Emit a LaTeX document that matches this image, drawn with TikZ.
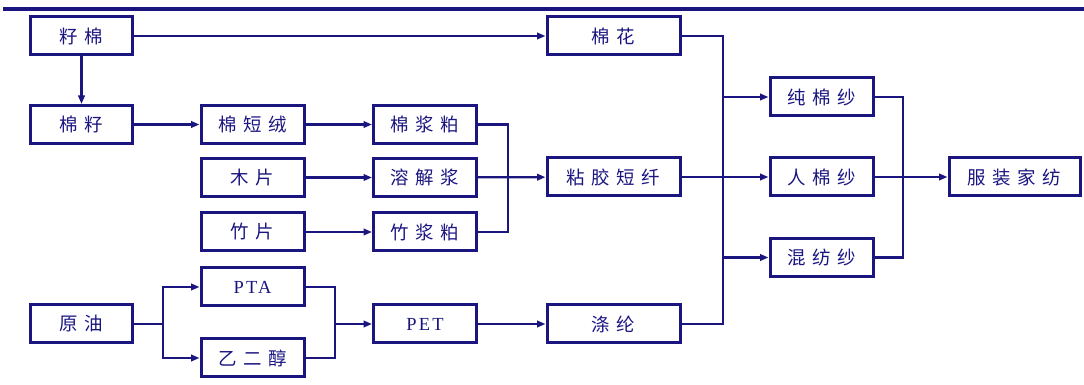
\documentclass[tikz,border=0pt]{standalone}
\usepackage{fontspec}
\setmainfont[LetterSpace=12]{Liberation Serif}
\newfontfamily\cjk[LetterSpace=35]{Noto Sans CJK SC}
\usetikzlibrary{arrows.meta}
\definecolor{navy}{HTML}{1B1580}

\begin{document}
\begin{tikzpicture}[x=0.2mm,y=-0.2mm,font=\fontsize{10.5pt}{12pt}\selectfont\cjk,
  box/.style={draw=navy,line width=0.6mm,text=navy,minimum height=7.6mm,inner sep=0pt},
  link/.style={navy,line width=0.45mm},
  feed/.style={link,-{Triangle[length=1.7mm,width=1.3mm]}}]
  \useasboundingbox (0,0) rectangle (1084,385);
  \draw[navy,line width=0.8mm] (3,9) -- (1084,9);
  \node[box,minimum width=20.4mm] (seedcotton) at (81.5,36) {籽棉};
  \node[box,minimum width=20.4mm] (cottonseed) at (81.5,124.5) {棉籽};
  \node[box,minimum width=20.4mm] (crude) at (81.5,324) {原油};
  \node[box,minimum width=20.6mm] (linter) at (252.5,124.5) {棉短绒};
  \node[box,minimum width=20.6mm] (wood) at (252.5,177.5) {木片};
  \node[box,minimum width=20.6mm] (bamboo) at (252.5,232) {竹片};
  \node[box,minimum width=20.6mm] (pta) at (252.5,287) {\rmfamily PTA};
  \node[box,minimum width=20.6mm] (glycol) at (252.5,358) {乙二醇};
  \node[box,minimum width=20.6mm] (cottonpulp) at (425,124.5) {棉浆粕};
  \node[box,minimum width=20.6mm] (dissolving) at (425,177.5) {溶解浆};
  \node[box,minimum width=20.6mm] (bamboopulp) at (425,232) {竹浆粕};
  \node[box,minimum width=20.6mm] (pet) at (425,324) {\rmfamily PET};
  \node[box,minimum width=26.6mm] (cotton) at (613.5,36) {棉花};
  \node[box,minimum width=26.6mm] (viscose) at (613.5,177) {粘胶短纤};
  \node[box,minimum width=26.6mm] (polyester) at (613.5,324) {涤纶};
  \node[box,minimum width=20.6mm] (pureyarn) at (821.5,97) {纯棉纱};
  \node[box,minimum width=20.6mm] (rayonyarn) at (821.5,177) {人棉纱};
  \node[box,minimum width=20.6mm] (blendyarn) at (821.5,257.5) {混纺纱};
  \node[box,minimum width=26.2mm] (textile) at (1014.5,177) {服装家纺};
  \coordinate (pulpjoin) at (508,177.5);
  \coordinate (oilsplit) at (163,324);
  \coordinate (petjoin) at (335,324);
  \coordinate (fibrejoin) at (723,177);
  \coordinate (yarnjoin) at (903,177);
  \draw[feed] (seedcotton) -- (cotton);
  \draw[feed] (seedcotton) -- (cottonseed);
  \draw[feed] (cottonseed) -- (linter);
  \draw[feed] (linter) -- (cottonpulp);
  \draw[feed] (wood) -- (dissolving);
  \draw[feed] (bamboo) -- (bamboopulp);
  \draw[link] (cottonpulp.east) -| (pulpjoin);
  \draw[link] (bamboopulp.east) -| (pulpjoin);
  \draw[feed] (dissolving) -- (viscose);
  \draw[link] (crude) -- (oilsplit);
  \draw[feed] (oilsplit) |- (pta);
  \draw[feed] (oilsplit) |- (glycol);
  \draw[link] (pta.east) -| (petjoin);
  \draw[link] (glycol.east) -| (petjoin);
  \draw[feed] (petjoin) -- (pet);
  \draw[feed] (pet) -- (polyester);
  \draw[link] (cotton.east) -| (fibrejoin);
  \draw[link] (polyester.east) -| (fibrejoin);
  \draw[feed] (fibrejoin) |- (pureyarn);
  \draw[feed] (viscose) -- (rayonyarn);
  \draw[feed] (fibrejoin) |- (blendyarn);
  \draw[link] (pureyarn.east) -| (yarnjoin);
  \draw[link] (blendyarn.east) -| (yarnjoin);
  \draw[feed] (rayonyarn) -- (textile);
\end{tikzpicture}
\end{document}
